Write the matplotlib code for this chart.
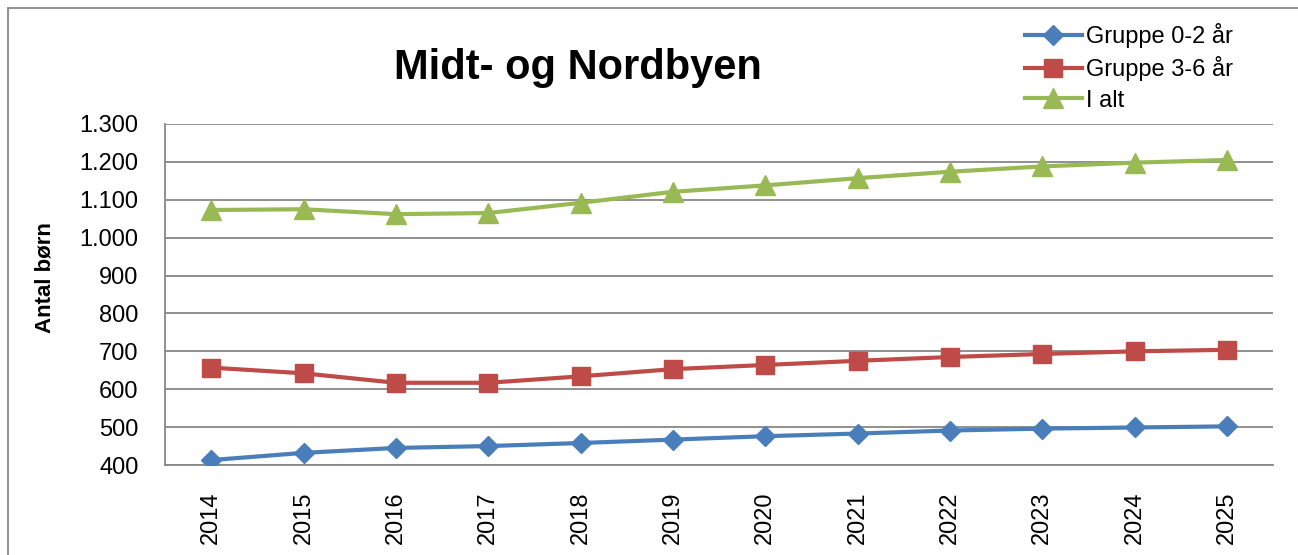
import matplotlib
matplotlib.use('Agg')
import matplotlib.pyplot as plt
from matplotlib.patches import Rectangle

plt.rcParams['font.family'] = ['Liberation Sans', 'DejaVu Sans']

# data
years = ['2014', '2015', '2016', '2017', '2018', '2019',
         '2020', '2021', '2022', '2023', '2024', '2025']
gruppe_0_2 = [413, 432, 445, 450, 458, 467, 476, 483, 491, 496, 499, 502]
gruppe_3_6 = [657, 642, 617, 617, 634, 653, 664, 675, 685, 693, 700, 704]
i_alt = [1073, 1075, 1062, 1065, 1092, 1121, 1138, 1157, 1174, 1188, 1198, 1205]
yticks = [400, 500, 600, 700, 800, 900, 1000, 1100, 1200, 1300]
ytick_labels = ['400', '500', '600', '700', '800', '900',
                '1.000', '1.100', '1.200', '1.300']

W, H = 1298, 555
fig = plt.figure(figsize=(W / 100, H / 100), dpi=100)
ax = fig.add_axes([165 / W, 1 - 465 / H, (1273 - 165) / W, (465 - 124) / H])

grid_col = '#878787'
x = [i + 0.5 for i in range(len(years))]
ax.plot(x, gruppe_0_2, color='#4A7EBB', lw=3, marker='D', ms=10,
        label='Gruppe 0-2 år', zorder=3)
ax.plot(x, gruppe_3_6, color='#BE4B48', lw=3, marker='s', ms=13,
        label='Gruppe 3-6 år', zorder=3)
ax.plot(x, i_alt, color='#98B954', lw=3, marker='^', ms=14,
        label='I alt', zorder=3)

ax.set_xlim(0, len(years))
ax.set_ylim(400, 1300)
ax.set_xticks(x)
ax.set_xticklabels(years, rotation=90, fontsize=17)
ax.set_yticks(yticks)
ax.set_yticklabels(ytick_labels, fontsize=17)
ax.tick_params(axis='both', length=0)
ax.tick_params(axis='y', pad=19)
ax.tick_params(axis='x', pad=19)
ax.grid(axis='y', color=grid_col, lw=1.3)
ax.set_axisbelow(True)
for side in ['top', 'right']:
    ax.spines[side].set_visible(False)
for side in ['left', 'bottom']:
    ax.spines[side].set_color(grid_col)
    ax.spines[side].set_linewidth(1.3)

fig.text(578 / W, 1 - 68 / H, 'Midt- og Nordbyen', fontsize=30,
         fontweight='bold', ha='center', va='center')
fig.text(45 / W, 1 - 278 / H, 'Antal børn', fontsize=16, fontweight='bold',
         rotation=90, ha='center', va='center')

fig.legend(loc='upper left', bbox_to_anchor=(1025 / W, 1 - 23 / H),
           frameon=False, fontsize=17, handlelength=2.4, handletextpad=0.2,
           labelspacing=0.35, borderpad=0, borderaxespad=0)

# outer chart frame (right and bottom edges fall outside the image)
fig.patches.append(Rectangle((8 / W, -0.1), 1.2, 1 - 8 / H + 0.1,
                             transform=fig.transFigure, fill=False,
                             edgecolor=grid_col, lw=1.3))

fig.savefig('out.png', dpi=100)
